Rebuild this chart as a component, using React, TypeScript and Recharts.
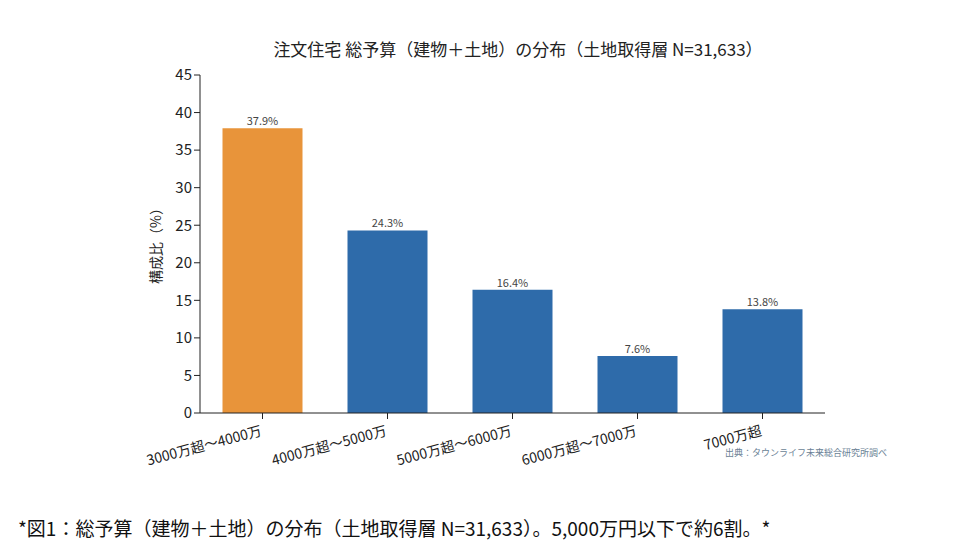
import { BarChart, Bar, XAxis, YAxis, Cell, LabelList } from "recharts";

const categories = ["3000万超～4000万", "4000万超～5000万", "5000万超～6000万", "6000万超～7000万", "7000万超"];
const shares = [37.9, 24.3, 16.4, 7.6, 13.8];
const yTicks = [0, 5, 10, 15, 20, 25, 30, 35, 40, 45];
const barColors = ["#E8943A", "#2E6BAA", "#2E6BAA", "#2E6BAA", "#2E6BAA"];

const data = categories.map((name, i) => ({ name, value: shares[i] }));
const font = "'Noto Sans CJK JP', 'Noto Sans', sans-serif";

function XTick({ x, y, payload }: any) {
  return (
    <text x={x} y={y + 14} transform={`rotate(-15, ${x}, ${y + 14})`} textAnchor="end" fontSize={14} fill="#222" fontFamily={font}>
      {payload.value}
    </text>
  );
}

export default function App() {
  return (
    <div style={{ position: "relative", width: 951, height: 536, fontFamily: font, background: "#fff" }}>
      <div style={{ position: "absolute", top: 28, left: 0, width: 1020, textAlign: "center", fontSize: 17, color: "#222" }}>
        注文住宅 総予算（建物＋土地）の分布（土地取得層 N=31,633）
      </div>
      <BarChart width={951} height={480} data={data} margin={{ top: 67, right: 134, bottom: 15, left: 152 }} barCategoryGap="18%">
        <XAxis dataKey="name" tick={<XTick />} interval={0} height={60} stroke="#222" tickLine={{ stroke: "#222" }} />
        <YAxis
          domain={[0, 45]}
          ticks={yTicks}
          width={40}
          stroke="#222"
          tick={{ fontSize: 15, fill: "#222", fontFamily: font }}
          label={{ value: "構成比（%）", angle: -90, position: "insideLeft", offset: -4, dy: 40, fontSize: 14, fill: "#222" }}
        />
        <Bar dataKey="value" isAnimationActive={false}>
          {data.map((d, i) => (
            <Cell key={d.name} fill={barColors[i]} />
          ))}
          <LabelList dataKey="value" position="top" offset={3} formatter={(v: any) => `${v}%`} style={{ fontSize: 11, fill: "#444", fontFamily: font }} />
        </Bar>
      </BarChart>
      <div style={{ position: "absolute", top: 438, left: 717, fontSize: 9, color: "#6a7f95" }}>出典：タウンライフ未来総合研究所調べ</div>
      <div style={{ position: "absolute", top: 506, left: 10, fontSize: 19, color: "#111" }}>
        *図1：総予算（建物＋土地）の分布（土地取得層 N=31,633）。5,000万円以下で約6割。*
      </div>
    </div>
  );
}
